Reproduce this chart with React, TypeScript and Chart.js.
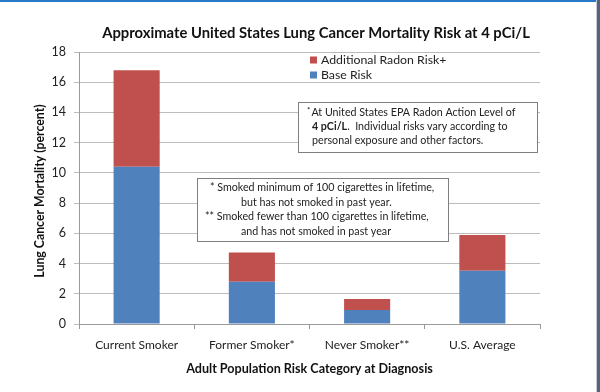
import React, { useEffect, useRef } from "react";
import { Chart, registerables } from "chart.js";

Chart.register(...registerables);

const categories = ["Current Smoker", "Former Smoker*", "Never Smoker**", "U.S. Average"];
const baseRisk = [10.4, 2.8, 0.93, 3.52];
const additionalRadonRisk = [6.4, 1.93, 0.73, 2.37];
const seriesLabels = ["Base Risk", "Additional Radon Risk+"];
const yMin = 0;
const yMax = 18;
const yStep = 2;
const chartTitle = "Approximate United States Lung Cancer Mortality Risk at 4 pCi/L";
const yAxisTitle = "Lung Cancer Mortality (percent)";
const xAxisTitle = "Adult Population Risk Category at Diagnosis";
const epaNoteLines = [
  [{ t: "*", sup: true }, { t: "At United States EPA Radon Action Level of" }],
  [{ t: "4 pCi/L", bold: true }, { t: ".  Individual risks vary according to" }],
  [{ t: "personal exposure and other factors." }],
];
const smokerNoteLines = [
  "* Smoked minimum of 100 cigarettes in lifetime,",
  "but has not smoked in past year.",
  "** Smoked fewer than 100 cigarettes in lifetime,",
  "and has not smoked in past year",
];

const BLUE = "#4F81BD";
const RED = "#C0504D";
const FONT = "Lato, 'Open Sans', sans-serif";
const TEXT = "#222";

const decorPlugin = {
  id: "decor",
  beforeDraw(chart: any) {
    const ctx = chart.ctx;
    ctx.save();
    ctx.fillStyle = "#fff";
    ctx.fillRect(0, 0, chart.width, chart.height);
    ctx.restore();
  },
  afterDraw(chart: any) {
    const ctx = chart.ctx;
    const W = chart.width;
    const H = chart.height;
    const area = chart.chartArea;
    ctx.save();
    // window chrome
    ctx.fillStyle = "#2a78c8";
    ctx.fillRect(0, 0, W, 2);
    ctx.fillStyle = "#54647c";
    ctx.fillRect(W - 3, 0, 3, H);
    ctx.fillStyle = "#c8ccd4";
    ctx.fillRect(W - 4, 0, 1, H);

    // title
    ctx.fillStyle = "#111";
    ctx.textAlign = "center";
    ctx.textBaseline = "middle";
    ctx.font = `bold 14.8px ${FONT}`;
    ctx.fillText(chartTitle, 316, 33);

    // y axis title
    ctx.save();
    ctx.translate(40, (area.top + area.bottom) / 2 + 3);
    ctx.rotate(-Math.PI / 2);
    ctx.font = `bold 12.3px ${FONT}`;
    ctx.fillText(yAxisTitle, 0, 0);
    ctx.restore();

    // legend (reversed order like the reference)
    const ds = chart.data.datasets;
    const items = [ds[1], ds[0]];
    ctx.font = `12.3px ${FONT}`;
    ctx.textAlign = "left";
    items.forEach((d: any, i: number) => {
      const y = 60 + i * 15;
      ctx.fillStyle = d.backgroundColor;
      ctx.fillRect(310, y - 3.5, 7, 7);
      ctx.fillStyle = TEXT;
      ctx.fillText(d.label, 321, y);
    });

    // EPA note box
    ctx.fillStyle = "#fff";
    ctx.fillRect(298, 102, 239, 50);
    ctx.strokeStyle = "#7f7f7f";
    ctx.lineWidth = 1;
    ctx.strokeRect(298.5, 102.5, 239, 50);
    ctx.fillStyle = TEXT;
    epaNoteLines.forEach((line: any[], i: number) => {
      let x = i === 0 ? 307 : 312;
      const y = 113 + i * 14;
      line.forEach((seg: any) => {
        if (seg.sup) {
          ctx.font = `8px ${FONT}`;
          ctx.fillText(seg.t, x, y - 3);
        } else {
          ctx.font = `${seg.bold ? "bold " : ""}10.7px ${FONT}`;
          ctx.fillText(seg.t, x, y);
        }
        x += ctx.measureText(seg.t).width + (seg.sup ? 1 : 0);
      });
    });

    // smoker definitions box
    ctx.fillStyle = "#fff";
    ctx.fillRect(197, 178, 251, 63);
    ctx.strokeRect(197.5, 178.5, 251, 63);
    ctx.fillStyle = TEXT;
    ctx.font = `10.7px ${FONT}`;
    const starts = [210, 241, 205, 241];
    smokerNoteLines.forEach((t, i) => {
      ctx.fillText(t, starts[i], 188 + i * 14.5);
    });
    ctx.restore();
  },
};

export default function App() {
  const ref = useRef<HTMLCanvasElement | null>(null);
  useEffect(() => {
    document.body.style.margin = "0";
    if (!ref.current) return;
    const chart = new Chart(ref.current, {
      type: "bar",
      data: {
        labels: categories,
        datasets: [
          { label: seriesLabels[0], data: baseRisk, backgroundColor: BLUE, borderWidth: 0 },
          { label: seriesLabels[1], data: additionalRadonRisk, backgroundColor: RED, borderWidth: 0 },
        ],
      },
      options: {
        animation: false,
        responsive: false,
        devicePixelRatio: 1,
        layout: { padding: { top: 52, left: 30, right: 60, bottom: 16 } },
        plugins: {
          legend: { display: false },
          title: { display: false },
          tooltip: { enabled: false },
        },
        datasets: { bar: { barPercentage: 0.4, categoryPercentage: 1 } },
        scales: {
          x: {
            stacked: true,
            offset: true,
            grid: {
              display: true,
              drawOnChartArea: false,
              offset: true,
              tickLength: 5,
              color: "#9a9a9a",
            },
            border: { color: "#9a9a9a" },
            ticks: { color: TEXT, font: { family: FONT, size: 12 }, padding: 9 },
            title: {
              display: true,
              text: xAxisTitle,
              color: "#111",
              font: { family: FONT, size: 12.6, weight: "bold" },
              padding: { top: 4, bottom: 0 },
            },
            afterFit: (s: any) => {
              s.height = 52;
            },
          },
          y: {
            stacked: true,
            min: yMin,
            max: yMax,
            ticks: { stepSize: yStep, color: TEXT, font: { family: FONT, size: 12.5 }, padding: 8 },
            grid: { color: "#bcbcbc", tickLength: 5 },
            border: { color: "#9a9a9a" },
            title: { display: false },
            afterFit: (s: any) => {
              s.width = 49;
            },
          },
        },
      },
      plugins: [decorPlugin],
    });
    return () => chart.destroy();
  }, []);
  return (
    <div style={{ width: 600, height: 392, overflow: "hidden" }}>
      <canvas ref={ref} width={600} height={392} style={{ display: "block", width: 600, height: 392 }} />
    </div>
  );
}
